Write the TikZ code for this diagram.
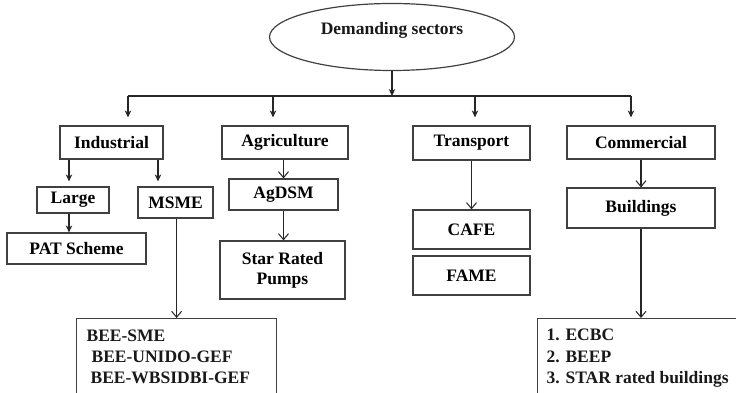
\documentclass[tikz,border=0pt]{standalone}
\usepackage{fontspec}
\setmainfont{Liberation Serif}
\usetikzlibrary{shapes.geometric,arrows.meta}
\begin{document}
\begin{tikzpicture}[x=1pt,y=-1pt,
  font=\fontsize{17.5}{21}\selectfont\bfseries,
  line width=1.2pt, draw={black!85},
  box/.style={draw={black!75},line width=1.2pt,rectangle,inner sep=0pt},
  txt/.style={inner sep=0pt,text=black!90},
  arrf/.style={-{Stealth[length=7pt,width=6.5pt]}},
  arro/.style={-{Straight Barb[length=6pt,width=10pt,line width=1pt]}}]
\useasboundingbox (0,0) rectangle (736,393);
\clip (0,0) rectangle (736,393);
% root
\node[draw={black!75},line width=1.2pt,ellipse,minimum width=245pt,minimum height=67pt,inner sep=0pt] (root) at (392,37) {};
\node[txt] (roottxt) at (392,30) {Demanding sectors};
% level 1
\node[box,minimum width=103pt,minimum height=33pt] (ind) at (111.5,142.5) {Industrial};
\node[box,minimum width=126pt,minimum height=33pt] (agr) at (285,142.5) {Agriculture};
\node[box,minimum width=117pt,minimum height=34pt] (tra) at (471.5,143) {Transport};
\node[box,minimum width=148pt,minimum height=33pt] (com) at (641,142.5) {Commercial};
% level 2
\node[box,minimum width=72pt,minimum height=26pt] (large) at (73,200) {Large};
\node[box,minimum width=75pt,minimum height=31pt] (msme) at (175.5,202.5) {MSME};
\node[box,minimum width=109pt,minimum height=31pt] (agdsm) at (283.5,194.5) {AgDSM};
\node[box,minimum width=139pt,minimum height=31pt] (pat) at (76.5,248.5) {PAT Scheme};
\node[box,minimum width=125pt,minimum height=58pt,align=center] (star) at (282.5,270) {Star Rated\\[-1pt]Pumps};
\node[box,minimum width=117pt,minimum height=39pt] (cafe) at (471.5,229.5) {CAFE};
\node[box,minimum width=117pt,minimum height=39pt] (fame) at (471.5,275.5) {FAME};
\node[box,minimum width=148pt,minimum height=40pt] (bld) at (641,208) {Buildings};
% bottom boxes
\node[box,minimum width=200pt,minimum height=84pt,anchor=north west] (bee) at (76,318) {};
\node[txt,anchor=base west] (bee1) at (86,341) {BEE-SME};
\node[txt,anchor=base west] (bee2) at (91,362) {BEE-UNIDO-GEF};
\node[txt,anchor=base west] (bee3) at (90,383) {BEE-WBSIDBI-GEF};
\node[box,minimum width=210pt,minimum height=84pt,anchor=north west] (lst) at (537,318) {};
\node[txt,anchor=base west] (l1) at (546,340) {1. ECBC};
\node[txt,anchor=base west] (l2) at (546,362) {2. BEEP};
\node[txt,anchor=base west] (l3) at (546,383) {3. STAR rated buildings};
% bus
\coordinate (bl) at (128,96);
\coordinate (br) at (631,96);
\coordinate (ba) at (273,96);
\coordinate (bt) at (475,96);
\draw[arrf] (root.south) -- (root.south |- bl);
\draw (bl) -- (br);
\draw[arrf] (bl) -- ([yshift=8pt]ind.north -| bl);
\draw[arrf] (ba) -- ([yshift=8pt]agr.north -| ba);
\draw[arrf] (bt) -- ([yshift=8pt]tra.north -| bt);
\draw[arrf] (br) -- ([yshift=8pt]com.north -| br);
% industrial
\coordinate (i1) at (69,0);
\coordinate (i2) at (158,0);
\draw[arrf] (ind.south -| i1) -- ([yshift=5pt]large.north -| i1);
\draw[arrf] (ind.south -| i2) -- ([yshift=5pt]msme.north -| i2);
\draw[arrf] (large.south -| i1) -- (pat.north -| i1);
\draw[arro] (msme.south -| bee.north) -- (bee.north);
% agriculture
\draw[arro] (agr.south -| agdsm.north) -- (agdsm.north);
\draw[arro] (agdsm.south) -- (star.north -| agdsm.south);
% transport
\draw[arro] (tra.south) -- (cafe.north);
% commercial
\draw[arro] (com.south) -- (bld.north);
\draw[arro] (bld.south) -- (bld.south |- lst.north);
\end{tikzpicture}
\end{document}
